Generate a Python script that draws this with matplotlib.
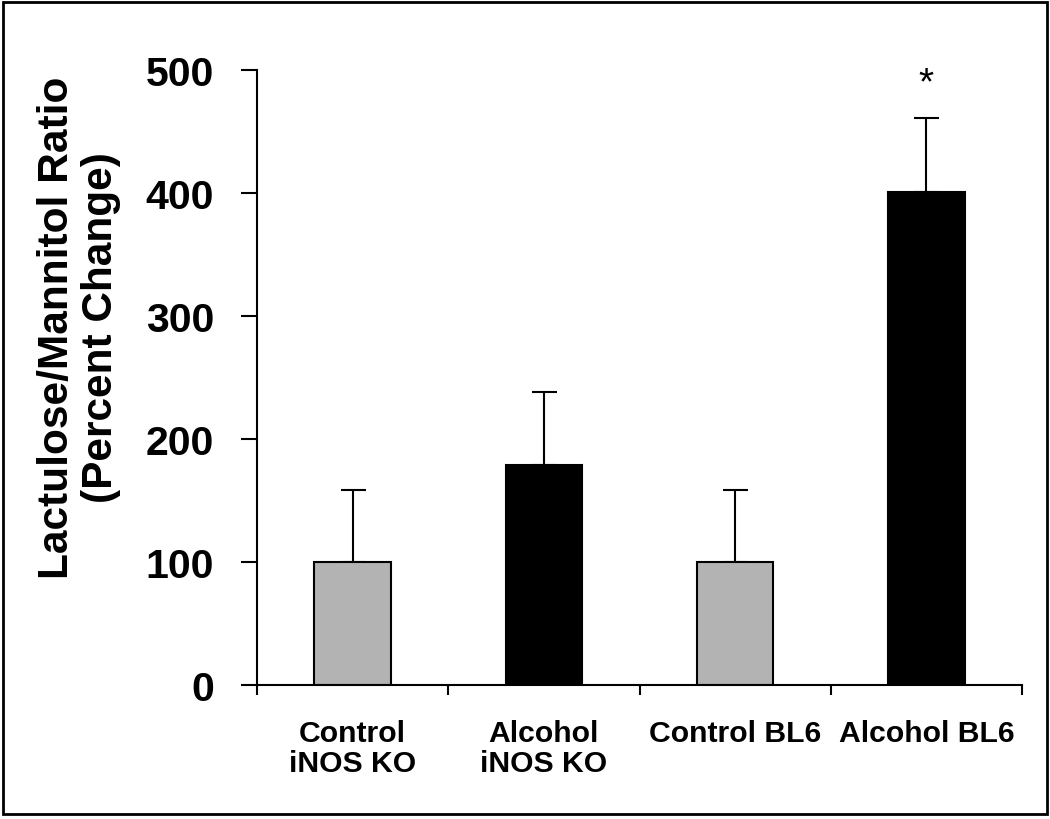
import numpy as np
import matplotlib.pyplot as plt
from matplotlib.patches import Rectangle

groups = ["Control\niNOS KO", "Alcohol\niNOS KO", "Control BL6", "Alcohol BL6"]
ratio = [100, 179, 100, 401]
sem = [58, 59, 58, 60]
colors = ["#b3b3b3", "black", "#b3b3b3", "black"]
signif = ["", "", "", "*"]

plt.rcParams["font.family"] = ["Liberation Sans", "DejaVu Sans"]
plt.rcParams["font.weight"] = "bold"

fig = plt.figure(figsize=(10.5, 8.2), dpi=100)
ax = fig.add_axes([0.2448, 0.1638, 0.7285, 0.7494])

x = np.arange(len(groups)) + 0.5
ax.bar(x, ratio, width=0.4, color=colors, edgecolor="black", linewidth=1.5, zorder=2)
ax.errorbar(x, ratio, yerr=[np.zeros(len(sem)), sem], fmt="none", ecolor="black",
            elinewidth=1.5, capsize=9, capthick=1.5, zorder=1)

# significance marks
for xi, r, s, m in zip(x, ratio, sem, signif):
    if m:
        ax.text(xi, r + s + 20, m, ha="center", va="baseline", fontsize=28, fontweight="normal")

ax.set_xlim(0, 4)
ax.set_ylim(0, 500)
ax.spines["top"].set_visible(False)
ax.spines["right"].set_visible(False)
for sp in ["left", "bottom"]:
    ax.spines[sp].set_linewidth(1.5)

ax.set_xticks(np.arange(len(groups) + 1))
ax.set_xticklabels([])
ax.set_xticks(x, minor=True)
ax.set_xticklabels(groups, minor=True, fontsize=21.7, linespacing=1.05)
ax.tick_params(axis="x", which="major", direction="out", length=7.2, width=1.5)
ax.tick_params(axis="x", which="minor", length=0, pad=25)

ax.set_yticks(range(0, 501, 100))
ax.tick_params(axis="y", direction="out", length=11.5, width=1.5, pad=19.5, labelsize=29.5)

fig.text(79 / 1050, 1 - 328 / 820, "Lactulose/Mannitol Ratio\n(Percent Change)",
         rotation=90, ha="center", va="center", multialignment="center",
         fontsize=30.5, linespacing=1.1)

fig.patches.append(Rectangle((0.003, 0.006), 0.994, 0.99, transform=fig.transFigure,
                             fill=False, edgecolor="black", linewidth=2))

fig.savefig("out.png", dpi=100)
